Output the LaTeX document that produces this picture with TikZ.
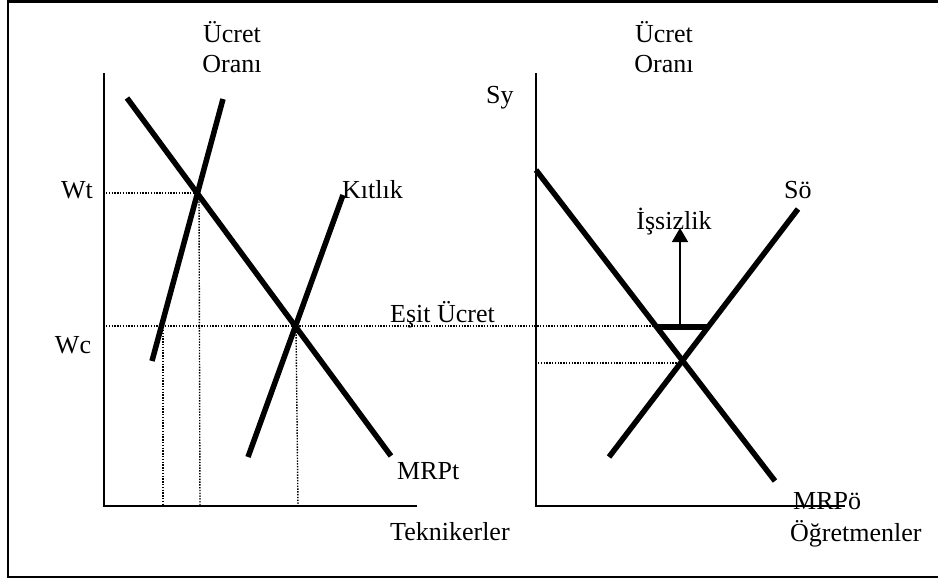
\documentclass[tikz,border=0pt]{standalone}
\usepackage{fontspec}
\setmainfont{Liberation Serif}
\usetikzlibrary{arrows.meta}
\begin{document}
\begin{tikzpicture}[x=1pt,y=-1pt,
  curve/.style={line width=5.5pt},
  axis/.style={line width=2pt},
  guide/.style={line width=1.4pt,dash pattern=on 1.4pt off 1.4pt},
  lbl/.style={anchor=base,inner sep=0pt,font=\fontsize{26}{30}\selectfont},
  lbll/.style={anchor=base west,inner sep=0pt,font=\fontsize{26}{30}\selectfont}]
\useasboundingbox (0,0) rectangle (938,579);
\fill[white] (0,0) rectangle (938,579);
\draw[line width=2.5pt] (8,1.5) rectangle (942,577);
% ---- left chart coordinates
\coordinate (LyT) at (104,73);
\coordinate (LO) at (104,506);
\coordinate (LxE) at (417,506);
\coordinate (D1a) at (127,98);
\coordinate (D1b) at (391,456);
\coordinate (S1a) at (223,99);
\coordinate (S1b) at (152,361);
\coordinate (K1a) at (343,195);
\coordinate (K1b) at (248,457);
\coordinate (E1) at (199,193);
\coordinate (E2) at (296,326);
\coordinate (WtL) at (106,193);
\coordinate (E1b) at (200,506);
\coordinate (WcL) at (106,326);
\coordinate (E2b) at (298,506);
\coordinate (V3t) at (163,330);
\coordinate (V3b) at (163,506);
\coordinate (EqR) at (657,326);
% ---- right chart coordinates
\coordinate (RyT) at (536,73);
\coordinate (RO) at (536,506);
\coordinate (RxE) at (845,506);
\coordinate (D2a) at (536,170);
\coordinate (D2b) at (775,481);
\coordinate (S2a) at (798,209);
\coordinate (S2b) at (609,457);
\coordinate (E3) at (680,363);
\coordinate (RyE3) at (538,363);
\coordinate (Ua) at (657,327);
\coordinate (Ub) at (707,327);
\coordinate (Ar0) at (680,324);
\coordinate (Ar1) at (680,228);
% ---- guides
\draw[guide] (WtL) -- (E1);
\draw[guide] (E1) -- (E1b);
\draw[guide] (WcL) -- (EqR);
\draw[guide] (E2) -- (E2b);
\draw[guide] (V3t) -- (V3b);
\draw[guide] (RyE3) -- (E3);
% ---- axes
\draw[axis] (LyT) -- (LO) -- (LxE);
\draw[axis] (RyT) -- (RO) -- (RxE);
% ---- curves
\draw[curve] (D1a) -- (D1b);
\draw[curve] (S1a) -- (S1b);
\draw[curve] (K1a) -- (K1b);
\draw[curve] (D2a) -- (D2b);
\draw[curve] (S2a) -- (S2b);
\draw[curve] (Ua) -- (Ub);
\draw[line width=1.6pt,-{Triangle[width=16pt,length=14pt]}] (Ar0) -- (Ar1);
% ---- labels
\node[lbl] (uo1) at (232,42) {Ücret};
\node[lbl] (uo2) at (232,72) {Oranı};
\node[lbl] (uo3) at (664,42) {Ücret};
\node[lbl] (uo4) at (664,72) {Oranı};
\node[lbl] (wt) at (77,198) {Wt};
\node[lbll] (kt) at (342,198) {Kıtlık};
\node[lbl] (wc) at (73,353) {Wc};
\node[lbll] (es) at (390,322) {Eşit Ücret};
\node[lbll] (mt) at (397,479) {MRPt};
\node[lbll] (tk) at (390,540) {Teknikerler};
\node[lbll] (sy) at (486,103) {Sy};
\node[lbll] (so) at (784,198) {Sö};
\node[lbl] (is) at (674,229) {İşsizlik};
\node[lbll] (mo) at (793,509) {MRPö};
\node[lbll] (og) at (790,541) {Öğretmenler};
\end{tikzpicture}
\end{document}
